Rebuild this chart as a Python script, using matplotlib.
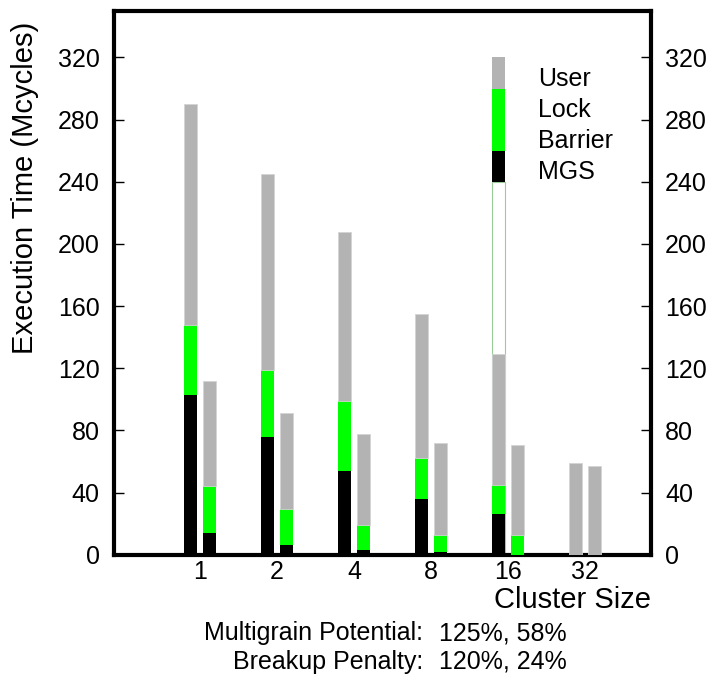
import numpy as np
import matplotlib
matplotlib.use('Agg')
import matplotlib.pyplot as plt

plt.rcParams['font.family'] = ['Liberation Sans', 'DejaVu Sans']

# Cluster sizes on the x axis
clusters = ['1', '2', '4', '8', '16', '32']

# Left bar of each pair (Mcycles)
mgs_a = [103, 76, 54, 36, 26, 0]
lock_a = [45, 43, 45, 26, 19, 0]
user_a = [142, 126, 109, 93, 84, 59]

# Right bar of each pair (Mcycles)
mgs_b = [14, 6.5, 3, 2, 0, 0]
lock_b = [30, 23, 16, 11, 12.5, 0]
user_b = [68, 62, 59, 59, 58, 57]

# Legend swatch stacked above the 16 bar
leg_names = ['User', 'Lock', 'Barrier', 'MGS']
leg_text_y = [306, 286, 266, 246]
leg_black = [240, 260]
leg_green = [260, 300]
leg_gray = [300, 320]

GRAY = '#b3b3b3'
GREEN = '#00ff00'

fig = plt.figure(figsize=(7.11, 6.75), dpi=100)
ax = fig.add_axes([0.16, 0.178, 0.756, 0.806])

x = np.arange(len(clusters))
w = 0.173
off = 0.123

for xs, m, l, u in [(x - off, mgs_a, lock_a, user_a), (x + off, mgs_b, lock_b, user_b)]:
    m = np.array(m, dtype=float)
    l = np.array(l, dtype=float)
    u = np.array(u, dtype=float)
    ax.bar(xs, m, w, color='black', zorder=3)
    ax.bar(xs, l, w, bottom=m, color=GREEN, zorder=3)
    ax.bar(xs, u, w, bottom=m + l, color=GRAY, edgecolor='#d4d4d4', linewidth=0.6, zorder=3)

# legend drawn as a stacked swatch over the first 16 bar
lx = x[4] - off
ax.bar(lx, leg_black[0], w, color='white', edgecolor='#99cc99', linewidth=0.8, zorder=1)
ax.bar(lx, leg_black[1] - leg_black[0], w, bottom=leg_black[0], color='black', zorder=3)
ax.bar(lx, leg_green[1] - leg_green[0], w, bottom=leg_green[0], color=GREEN, zorder=3)
ax.bar(lx, leg_gray[1] - leg_gray[0], w, bottom=leg_gray[0], color=GRAY, zorder=3)
for name, ty in zip(leg_names, leg_text_y):
    ax.text(x[4] + 0.39, ty, name, fontsize=18, va='center', ha='left')

ax.set_xlim(-1.12, 5.86)
ax.set_ylim(0, 350)
ax.set_xticks(x)
ax.set_xticklabels(clusters)
ax.set_yticks(np.arange(0, 321, 40))
ax.tick_params(axis='x', length=0, pad=4, labelsize=18)
ax.tick_params(axis='y', direction='in', length=7, width=1, pad=10, labelsize=18,
               right=True, labelright=True)
for s in ax.spines.values():
    s.set_linewidth(3)

fig.text(25 / 711, 1 - 188 / 675, 'Execution Time (Mcycles)', rotation=90,
         fontsize=21, ha='center', va='center')
fig.text(651 / 711, 1 - 600 / 675, 'Cluster Size', fontsize=21, ha='right', va='center')

fig.text(423 / 711, 1 - 633 / 675, 'Multigrain Potential:', fontsize=18, ha='right', va='center')
fig.text(439 / 711, 1 - 633 / 675, '125%, 58%', fontsize=18, ha='left', va='center')
fig.text(423 / 711, 1 - 662 / 675, 'Breakup Penalty:', fontsize=18, ha='right', va='center')
fig.text(439 / 711, 1 - 662 / 675, '120%, 24%', fontsize=18, ha='left', va='center')

fig.savefig('out.png', dpi=100)
